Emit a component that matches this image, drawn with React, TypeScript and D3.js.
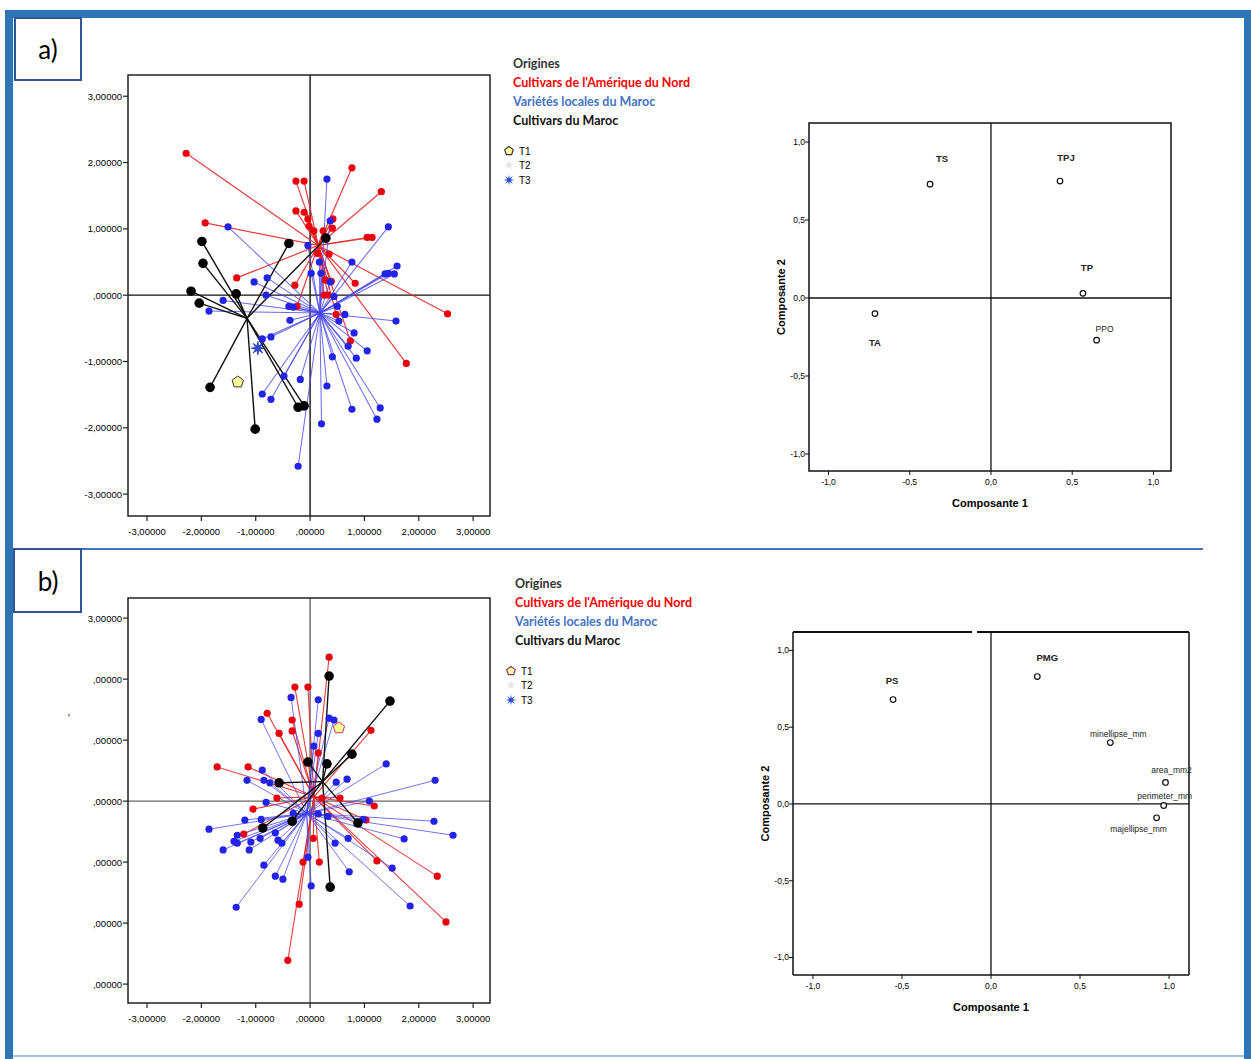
import React from 'react';
import * as d3 from 'd3';

type P = [number, number];

// ---------- panel a) : individual scores (axis 1, axis 2)
const redA: P[] = [
  [-2.28, 2.14], [-0.26, 1.72], [-0.11, 1.72], [0.77, 1.92], [1.31, 1.56], [-0.26, 1.27],
  [-0.11, 1.25], [-0.04, 1.15], [0.42, 1.15], [0.41, 1.01], [-0.02, 1.04], [0.07, 0.97],
  [0.24, 0.97], [-1.93, 1.09], [1.05, 0.87], [1.14, 0.87], [-1.35, 0.26], [0.13, 0.63],
  [0.35, 0.62], [-0.28, 0.15], [0.83, 0.18], [0.28, 0.23], [0.39, 0.21], [0.26, 0.0],
  [0.33, 0.0], [-0.24, -0.17], [0.48, -0.29], [0.74, -0.69], [1.77, -1.03], [2.53, -0.28],
];
const blueA: P[] = [
  [0.31, 1.75], [0.37, 1.12], [1.44, 1.03], [-1.51, 1.03], [-0.04, 0.75], [0.17, 0.5],
  [0.77, 0.5], [1.6, 0.44], [1.38, 0.32], [1.44, 0.33], [1.55, 0.32], [0.02, 0.33],
  [0.2, 0.33], [0.37, 0.2], [-1.03, 0.2], [-0.79, 0.26], [-0.81, 0.0], [0.44, -0.02],
  [-0.39, -0.17], [-0.37, -0.38], [0.5, -0.17], [0.64, -0.29], [0.53, -0.39], [1.58, -0.39],
  [-0.72, -0.63], [-0.88, -0.66], [0.81, -0.57], [0.7, -0.77], [1.05, -0.84], [0.41, -0.93],
  [0.85, -0.95], [-0.18, -1.27], [0.31, -1.37], [-1.6, -0.08], [-1.86, -0.24], [-0.31, -0.18],
  [-0.48, -1.22], [-0.88, -1.49], [-0.72, -1.57], [-0.22, -2.58], [0.21, -1.94], [0.77, -1.72],
  [1.29, -1.7], [1.23, -1.87],
];
const blackA: P[] = [
  [-1.99, 0.81], [-1.97, 0.48], [-2.19, 0.06], [-1.36, 0.02], [-0.39, 0.78], [0.29, 0.86],
  [-2.04, -0.12], [-1.84, -1.39], [-1.01, -2.02], [-0.22, -1.69], [-0.11, -1.67],
];
const redCentroidA: P = [0.15, 0.75];
const blueCentroidA: P = [0.18, -0.27];
const blackCentroidA: P = [-1.16, -0.35];
const t1A: P = [-1.33, -1.31];
const t3A: P = [-0.96, -0.8];

// ---------- panel b)
const redB: P[] = [
  [0.35, 2.36], [-0.28, 1.87], [-0.04, 1.87], [-0.79, 1.44], [-0.57, 1.11], [-0.33, 1.33],
  [-0.33, 1.15], [1.12, 1.16], [-1.71, 0.56], [-1.14, 0.56], [0.15, 0.79], [-0.61, 0.05],
  [0.55, 0.05], [1.18, -0.08], [-1.05, -0.13], [1.03, -0.31], [-1.22, -0.54], [0.06, -0.61],
  [-0.13, -1.0], [0.17, -1.0], [1.23, -0.98], [2.34, -1.23], [-0.2, -1.69], [2.5, -1.98],
  [-0.41, -2.61], [0.22, 0.05],
];
const blueB: P[] = [
  [-0.35, 1.7], [0.15, 1.66], [-0.9, 1.34], [0.35, 1.36], [0.44, 1.33], [0.15, 1.11],
  [0.07, 0.9], [1.4, 0.61], [2.3, 0.34], [-0.88, 0.51], [-1.16, 0.34], [-0.85, 0.34],
  [-0.74, 0.3], [0.48, 0.31], [0.68, 0.36], [-0.81, -0.02], [1.09, 0.0], [-1.86, -0.46],
  [-1.2, -0.31], [-0.9, -0.3], [-0.31, -0.2], [0.15, -0.21], [0.33, -0.25], [0.98, -0.3],
  [2.28, -0.33], [2.63, -0.56], [-1.34, -0.56], [-1.4, -0.66], [-1.34, -0.69], [-1.09, -0.67],
  [-0.92, -0.61], [-0.64, -0.52], [-0.59, -0.64], [-0.52, -0.69], [-1.6, -0.8], [-1.12, -0.8],
  [0.46, -0.69], [0.7, -0.61], [1.73, -0.62], [-0.04, -0.92], [-0.85, -1.05], [-0.64, -1.23],
  [-0.5, -1.28], [0.72, -1.16], [1.51, -1.1], [0.02, -1.39], [-1.36, -1.74], [1.84, -1.72],
];
const blackB: P[] = [
  [0.35, 2.05], [1.47, 1.64], [0.77, 0.77], [-0.04, 0.64], [0.31, 0.61], [-0.57, 0.3],
  [-0.87, -0.44], [-0.33, -0.33], [0.88, -0.36], [0.37, -1.41],
];
const redCentroidB: P = [0.07, 0.07];
const blueCentroidB: P = [-0.06, -0.2];
const blackCentroidB: P = [0.23, 0.32];
const t1B: P = [0.53, 1.2];

// ---------- axis tick labels
const scoreTicks = [-3, -2, -1, 0, 1, 2, 3];
const scoreTickLabels = ['-3,00000', '-2,00000', '-1,00000', ',00000', '1,00000', '2,00000', '3,00000'];
const scoreTickLabelsB = [',00000', ',00000', ',00000', ',00000', ',00000', ',00000', '3,00000'];
const loadTicks = [-1, -0.5, 0, 0.5, 1];
const loadTickLabels = ['-1,0', '-0,5', '0,0', '0,5', '1,0'];

// ---------- component loadings
const loadNamesA = ['TS', 'TPJ', 'TP', 'PPO', 'TA'];
const loadXA = [-0.375, 0.425, 0.566, 0.65, -0.714];
const loadYA = [0.73, 0.75, 0.03, -0.27, -0.1];
const loadNamesB = ['PS', 'PMG', 'minellipse_mm', 'area_mm2', 'perimeter_mm', 'majellipse_mm'];
const loadXB = [-0.55, 0.26, 0.67, 0.98, 0.97, 0.93];
const loadYB = [0.68, 0.83, 0.4, 0.14, -0.01, -0.09];

const legendItems = ['Cultivars de l\'Amérique du Nord', 'Variétés locales du Maroc', 'Cultivars du Maroc'];
const legendColors = ['#ff0000', '#4472c4', '#111'];

const RED = '#e8000d';
const BLUE = '#2323e8';
const FONT = 'Liberation Sans, Arial, sans-serif';
const NARROW = 'Liberation Sans Narrow, Liberation Sans, Arial, sans-serif';

const pentagon = (cx: number, cy: number, r: number) =>
  d3.range(5).map(i => {
    const a = -Math.PI / 2 + (i * 2 * Math.PI) / 5;
    return `${cx + r * Math.cos(a)},${cy + r * Math.sin(a)}`;
  }).join(' ');

const star = (cx: number, cy: number, ro: number, ri: number, n: number) =>
  d3.range(n * 2).map(i => {
    const a = -Math.PI / 2 + (i * Math.PI) / n;
    const r = i % 2 === 0 ? ro : ri;
    return `${cx + r * Math.cos(a)},${cy + r * Math.sin(a)}`;
  }).join(' ');

type Group = { pts: P[]; c: P; color: string; line: string; r: number; lw: number; op: number };

const Scores = ({ left, top, width, height, yDom, groups, yLabels, zeroColor, t1, t3, t1Stroke }: any) => {
  const x = d3.scaleLinear().domain([-3.35, 3.31]).range([left, left + width]);
  const y = d3.scaleLinear().domain(yDom).range([top + height, top]);
  return (
    <g>
      <line x1={x(0)} x2={x(0)} y1={top} y2={top + height} stroke={zeroColor} strokeWidth={1.4} />
      <line x1={left} x2={left + width} y1={y(0)} y2={y(0)} stroke={zeroColor} strokeWidth={1.4} />
      {groups.map((g: Group, gi: number) => (
        <g key={'l' + gi}>
          {g.pts.map((p, i) => (
            <line key={i} x1={x(p[0])} y1={y(p[1])} x2={x(g.c[0])} y2={y(g.c[1])}
              stroke={g.line} strokeWidth={g.lw} opacity={g.op} />
          ))}
        </g>
      ))}
      {groups.map((g: Group, gi: number) => (
        <g key={'p' + gi}>
          {g.pts.map((p, i) => (
            <circle key={i} cx={x(p[0])} cy={y(p[1])} r={g.r} fill={g.color} />
          ))}
        </g>
      ))}
      {t3 && (
        <g>
          <polygon points={star(x(t3[0]), y(t3[1]), 7, 2.6, 8)} fill="#2b4fd0" stroke="#1a2fa0" strokeWidth={0.6} />
        </g>
      )}
      {t1 && <polygon points={pentagon(x(t1[0]), y(t1[1]), 6)} fill="#ffff99" stroke={t1Stroke} strokeWidth={1} />}
      <rect x={left} y={top} width={width} height={height} fill="none" stroke="#222" strokeWidth={1.5} />
      {scoreTicks.map((t, i) => (
        <g key={'x' + t}>
          <line x1={x(t)} x2={x(t)} y1={top + height} y2={top + height + 5} stroke="#222" strokeWidth={1.2} />
          <text x={x(t)} y={top + height + 19} textAnchor="middle" fontSize={9.5} fontFamily={FONT}>{scoreTickLabels[i]}</text>
        </g>
      ))}
      {scoreTicks.map((t, i) => (
        <g key={'y' + t}>
          <line x1={left - 5} x2={left} y1={y(t)} y2={y(t)} stroke="#222" strokeWidth={1.2} />
          <text x={left - 6} y={y(t) + 3.5} textAnchor="end" fontSize={9.5} fontFamily={FONT}>{yLabels[i]}</text>
        </g>
      ))}
    </g>
  );
};

const Loadings = ({ left, top, width, height, xDom, yDom, names, xs, ys, offsets, big, gap }: any) => {
  const x = d3.scaleLinear().domain(xDom).range([left, left + width]);
  const y = d3.scaleLinear().domain(yDom).range([top + height, top]);
  const cx = left + width / 2;
  const cy = top + height / 2;
  return (
    <g>
      <line x1={x(0)} x2={x(0)} y1={top} y2={top + height} stroke="#111" strokeWidth={1.3} />
      <line x1={left} x2={left + width} y1={y(0)} y2={y(0)} stroke="#111" strokeWidth={1.3} />
      {gap ? (
        <g>
          <line x1={left} x2={gap[0]} y1={top} y2={top} stroke="#111" strokeWidth={2} />
          <line x1={gap[1]} x2={left + width} y1={top} y2={top} stroke="#111" strokeWidth={2} />
          <line x1={left} x2={left} y1={top} y2={top + height} stroke="#111" strokeWidth={1.5} />
          <line x1={left + width} x2={left + width} y1={top} y2={top + height} stroke="#111" strokeWidth={1.5} />
          <line x1={left} x2={left + width} y1={top + height} y2={top + height} stroke="#111" strokeWidth={1.5} />
        </g>
      ) : (
        <rect x={left} y={top} width={width} height={height} fill="none" stroke="#111" strokeWidth={1.5} />
      )}
      {loadTicks.map((t, i) => (
        <g key={'x' + t}>
          <line x1={x(t)} x2={x(t)} y1={top + height} y2={top + height + 4} stroke="#111" />
          <text x={x(t)} y={top + height + 14} textAnchor="middle" fontSize={8.5} fontFamily={NARROW}>{loadTickLabels[i]}</text>
        </g>
      ))}
      {loadTicks.map((t, i) => (
        <g key={'y' + t}>
          <line x1={left - 4} x2={left} y1={y(t)} y2={y(t)} stroke="#111" />
          <text x={left - 4} y={y(t) + 3} textAnchor="end" fontSize={8.5} fontFamily={NARROW}>{loadTickLabels[i]}</text>
        </g>
      ))}
      {names.map((n: string, i: number) => (
        <g key={n}>
          <circle cx={x(xs[i])} cy={y(ys[i])} r={2.8} fill="#fff" stroke="#111" strokeWidth={1.2} />
          <text x={x(xs[i]) + offsets[i][0]} y={y(ys[i]) + offsets[i][1]} textAnchor="middle"
            fontSize={big.includes(n) ? 9.5 : 8.5} fontWeight={big.includes(n) ? 'bold' : 'normal'}
            fontFamily={big.includes(n) ? FONT : NARROW} fill="#222">{n}</text>
        </g>
      ))}
      <text x={cx} y={top + height + 36} textAnchor="middle" fontSize={11} fontWeight="bold" fontFamily={FONT}>Composante 1</text>
      <text transform={`translate(${left - 24},${cy}) rotate(-90)`} textAnchor="middle" fontSize={11}
        fontWeight="bold" fontFamily={FONT}>Composante 2</text>
    </g>
  );
};

const Legend = ({ x, y, t1Stroke, showT3 }: any) => (
  <g fontFamily="Lato, Carlito, sans-serif">
    <text x={x} y={y} fontSize={12.5} fontWeight="bold" fill="#333">Origines</text>
    {legendItems.map((s, i) => (
      <text key={s} x={x} y={y + 19 * (i + 1)} fontSize={12.5} fontWeight="bold" fill={legendColors[i]}>{s}</text>
    ))}
    <polygon points={pentagon(x - 4, y + 83, 4.5)} fill="#ffff99" stroke={t1Stroke} strokeWidth={1.2} />
    <text x={x + 6} y={y + 87} fontSize={10} fontFamily={FONT}>T1</text>
    <polygon points={star(x - 4, y + 97, 5, 2, 5)} fill="#e4e4e4" />
    <text x={x + 6} y={y + 101} fontSize={10} fontFamily={FONT}>T2</text>
    {showT3 && <polygon points={star(x - 4, y + 112, 5.5, 2, 8)} fill="#2b4fd0" />}
    <text x={x + 6} y={y + 116} fontSize={10} fontFamily={FONT}>T3</text>
  </g>
);

const groupsOf = (red: P[], blue: P[], black: P[], rc: P, bc: P, kc: P, lw: number): Group[] => [
  { pts: red, c: rc, color: RED, line: '#e52a2a', r: 3.6, lw: lw, op: 0.9 },
  { pts: blue, c: bc, color: BLUE, line: '#4646ee', r: 3.6, lw: lw * 0.85, op: 0.8 },
  { pts: black, c: kc, color: '#000', line: '#111', r: 4.8, lw: 1.4, op: 1 },
];

export default function App() {
  const offsA = [[12, -22], [6, -20], [4, -22], [8, -8], [0, 32]];
  const offsB = [[-1, -16], [10, -16], [8, -6], [6, -9], [1, -6], [-18, 14]];
  return (
    <svg width={1251} height={1059} style={{ position: 'absolute', left: 0, top: 0, background: '#fff' }}>
      <rect x={0} y={0} width={1251} height={1059} fill="#fff" />
      {/* outer frame */}
      <rect x={5} y={10} width={1246} height={8} fill="#2e75b6" />
      <rect x={5} y={10} width={8} height={1049} fill="#2e75b6" />
      <rect x={1244} y={10} width={7} height={1049} fill="#2e75b6" />
      <line x1={13} x2={1244} y1={1056} y2={1056} stroke="#9dc3e6" strokeWidth={2} />
      <line x1={36} x2={1203} y1={549} y2={549} stroke="#4472c4" strokeWidth={2} />
      {/* panel labels */}
      <rect x={15} y={18} width={66} height={62} fill="#fff" stroke="#2f5597" strokeWidth={2} />
      <text x={48} y={59} textAnchor="middle" fontSize={26} fontFamily="Lato, Carlito, sans-serif">a)</text>
      <rect x={14} y={549} width={67} height={63} fill="#fff" stroke="#2f5597" strokeWidth={2} />
      <text x={48} y={591} textAnchor="middle" fontSize={26} fontFamily="Lato, Carlito, sans-serif">b)</text>

      <Scores left={128} top={75} width={362} height={441} yDom={[-3.33, 3.32]}
        groups={groupsOf(redA, blueA, blackA, redCentroidA, blueCentroidA, blackCentroidA, 1.2)}
        yLabels={scoreTickLabels} zeroColor="#111" t1={t1A} t3={t3A} t1Stroke="#333" />
      <Legend x={513} y={68} t1Stroke="#333" showT3 />

      <Scores left={128} top={598} width={362} height={405} yDom={[-3.31, 3.33]}
        groups={groupsOf(redB, blueB, blackB, redCentroidB, blueCentroidB, blackCentroidB, 1.1)}
        yLabels={scoreTickLabelsB} zeroColor="#666" t1={t1B} t1Stroke="#c03060" />
      <text x={68} y={722} fontSize={10} fill="#000" fontFamily={FONT}>'</text>
      <Legend x={515} y={588} t1Stroke="#803080" showT3 />

      <Loadings left={809} top={123} width={362} height={348} xDom={[-1.12, 1.108]} yDom={[-1.109, 1.122]}
        names={loadNamesA} xs={loadXA} ys={loadYA} offsets={offsA} big={['TS', 'TPJ', 'TP', 'TA']} />
      <Loadings left={793} top={632} width={396} height={343} xDom={[-1.112, 1.112]} yDom={[-1.114, 1.12]}
        names={loadNamesB} xs={loadXB} ys={loadYB} offsets={offsB} big={['PS', 'PMG']} gap={[972, 977]} />
    </svg>
  );
}
